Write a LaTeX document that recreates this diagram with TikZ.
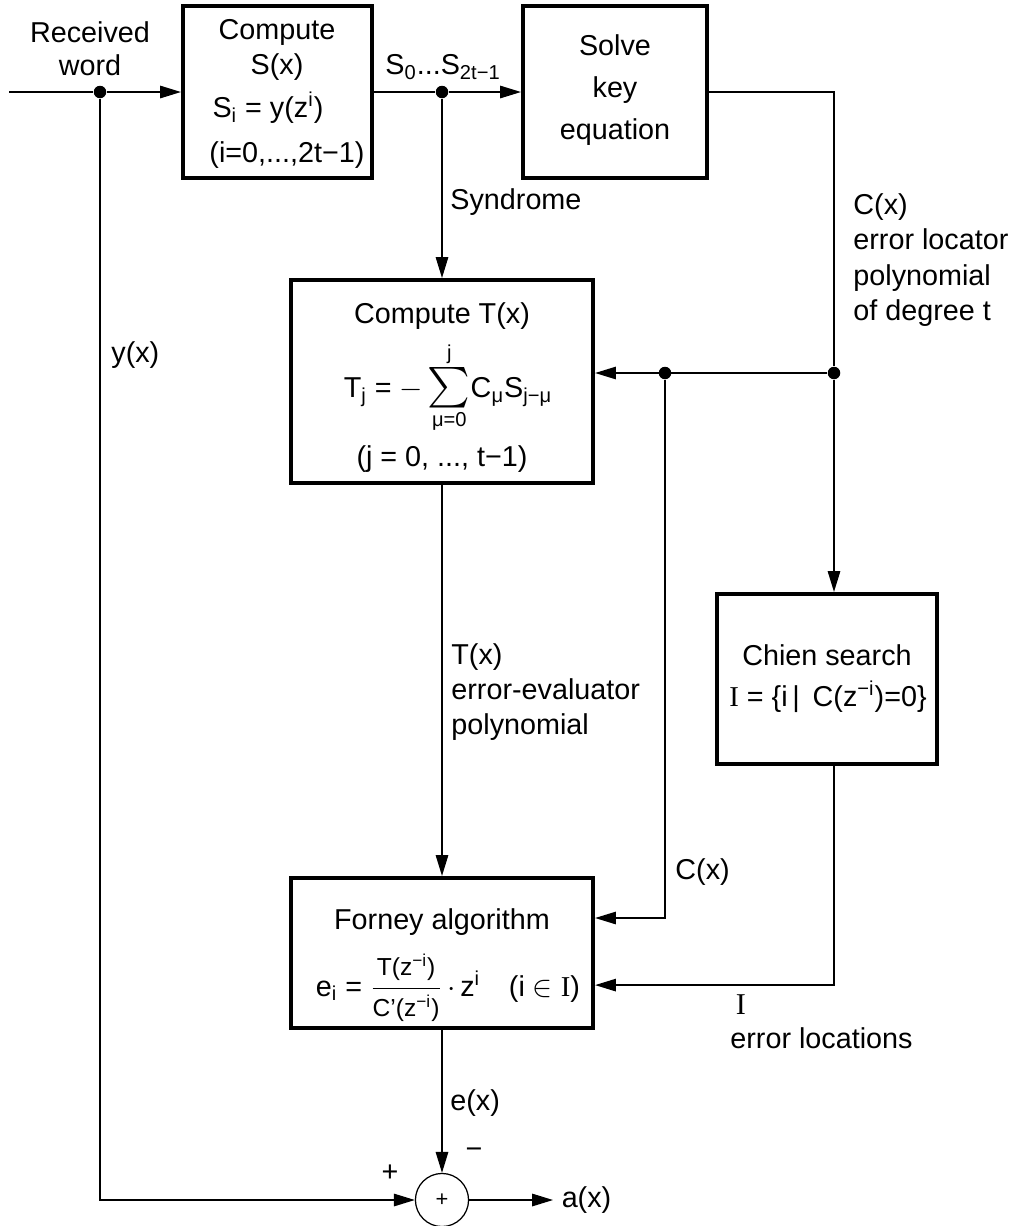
\documentclass[tikz,border=0pt]{standalone}
\usepackage{fontspec}
\usepackage{amsmath}
\usepackage{graphicx}
\setmainfont{Liberation Sans}
\newfontfamily\romanI{Liberation Serif}
\usetikzlibrary{arrows.meta}

\begin{document}
\begin{tikzpicture}[x=0.48pt,y=-0.48pt,
        font=\fontsize{13.8}{16}\selectfont,
        block/.style={draw,line width=2pt,inner sep=0pt},
        wire/.style={line width=0.6pt},
        arr/.style={wire,-{Triangle[length=10pt,width=6pt]}},
        dot/.style={circle,fill,inner sep=0pt,minimum size=6pt},
        txt/.style={inner sep=0pt}]
                \useasboundingbox (0,0) rectangle (1013,1226);

                \node[block,minimum width=90.7pt,minimum height=82.6pt] (syn) at (277.5,92) {};
                \node[block,minimum width=88.3pt,minimum height=82.6pt] (key) at (615,92) {};
                \node[block,minimum width=145pt,minimum height=97.4pt] (tcomp) at (442,381.5) {};
                \node[block,minimum width=105.6pt,minimum height=81.6pt] (chien) at (827,679) {};
                \node[block,minimum width=145pt,minimum height=72pt] (forney) at (442,953) {};
                \node[draw,circle,wire,minimum size=25.5pt,inner sep=0pt,font=\fontsize{10.5}{12}\selectfont] (sum) at (442,1200) {+};

                \node[txt] (syn1) at (277,32) {Compute};
                \node[txt] (syn2) at (277,67) {S(x)};
                \node[txt] (syn3) at (268,108) {S\textsubscript{i} = y(z\textsuperscript{i})};
                \node[txt] (syn4) at (287,155) {(i=0,...,2t−1)};

                \node[txt,align=center,font=\fontsize{13.8}{20.2}\selectfont] (keytxt) at (615,90) {Solve\\key\\equation};

                \node[txt] (tc1) at (442,316) {Compute T(x)};
                \node[txt] (tc2) at (448,388) {T\textsubscript{j} = $-\mathop{\scalebox{1.35}{$\sum$}}\limits_{\text{μ=0}}^{\text{j}}$C\textsubscript{μ}S\textsubscript{j−μ}};
                \node[txt] (tc3) at (442,459) {(j = 0, ..., t−1)};

                \node[txt] (ch1) at (827,655) {Chien search};
                \node[txt] (ch2) at (828,697) {{\romanI I} = \{i\,|\, C(z\textsuperscript{−i})=0\}};

                \node[txt] (fo1) at (442,922) {Forney algorithm};
                \node[txt] (fo2) at (448,988) {e\textsubscript{i} = $\dfrac{\text{\fontsize{11.8}{13}\selectfont T(z\textsuperscript{−i})}}{\text{\fontsize{11.8}{13}\selectfont C’(z\textsuperscript{−i})}}\,\cdot\,$z\textsuperscript{i}\quad(i $\in$ {\romanI I})};

                \node[txt,align=center] (rw) at (90,49) {Received\\word};
                \node[txt,anchor=west] (sl) at (385,67) {S\textsubscript{0}...S\textsubscript{2t−1}};
                \node[txt,anchor=west] (syl) at (450,202) {Syndrome};
                \node[txt,anchor=west,align=left,font=\fontsize{13.8}{17}\selectfont] (cl) at (853,260) {C(x)\\error locator\\polynomial\\of degree t};
                \node[txt,anchor=west] (yl) at (111,355) {y(x)};
                \node[txt,anchor=west,align=left,font=\fontsize{13.8}{16.8}\selectfont] (tl) at (451,692) {T(x)\\error-evaluator\\polynomial};
                \node[txt,anchor=west] (cl2) at (675,872) {C(x)};
                \node[txt,font={\romanI\fontsize{14.5}{16}\selectfont}] (il) at (741,1005) {I};
                \node[txt,anchor=west] (el) at (730,1038) {error locations};
                \node[txt,anchor=west] (exl) at (450,1103) {e(x)};
                \node[txt] (mi) at (474,1153) {−};
                \node[txt] (pl) at (390,1173) {+};
                \node[anchor=west,inner sep=4pt] (ax) at (553,1200) {a(x)};

                \coordinate (in) at (9,92);
                \node[dot] (d1) at (100,92) {};
                \node[dot] (d2) at (442,92) {};
                \node[dot] (d3) at (834,373) {};
                \node[dot] (d4) at (665,373) {};

                \draw[wire] (in) -- (d1);
                \draw[arr] (d1) -- (syn);
                \draw[wire] (syn) -- (d2);
                \draw[arr] (d2) -- (key);
                \draw[arr] (d2) -- (d2 |- tcomp.north);
                \draw[wire] (key) -| (d3);
                \draw[arr] (d3) -- (d3 |- chien.north);
                \draw[arr] (d3) -- (d4 -| tcomp.east);
                \draw[arr] (d4) |- ([yshift=16.8pt]forney.east);
                \draw[arr] (d3 |- chien.south) |- ([yshift=-15.4pt]forney.east);
                \draw[arr] (tcomp) -- (forney);
                \draw[arr] (forney) -- (sum);
                \draw[arr] (d1) |- (sum);
                \draw[arr] (sum) -- (ax);
            \end{tikzpicture}
\end{document}
